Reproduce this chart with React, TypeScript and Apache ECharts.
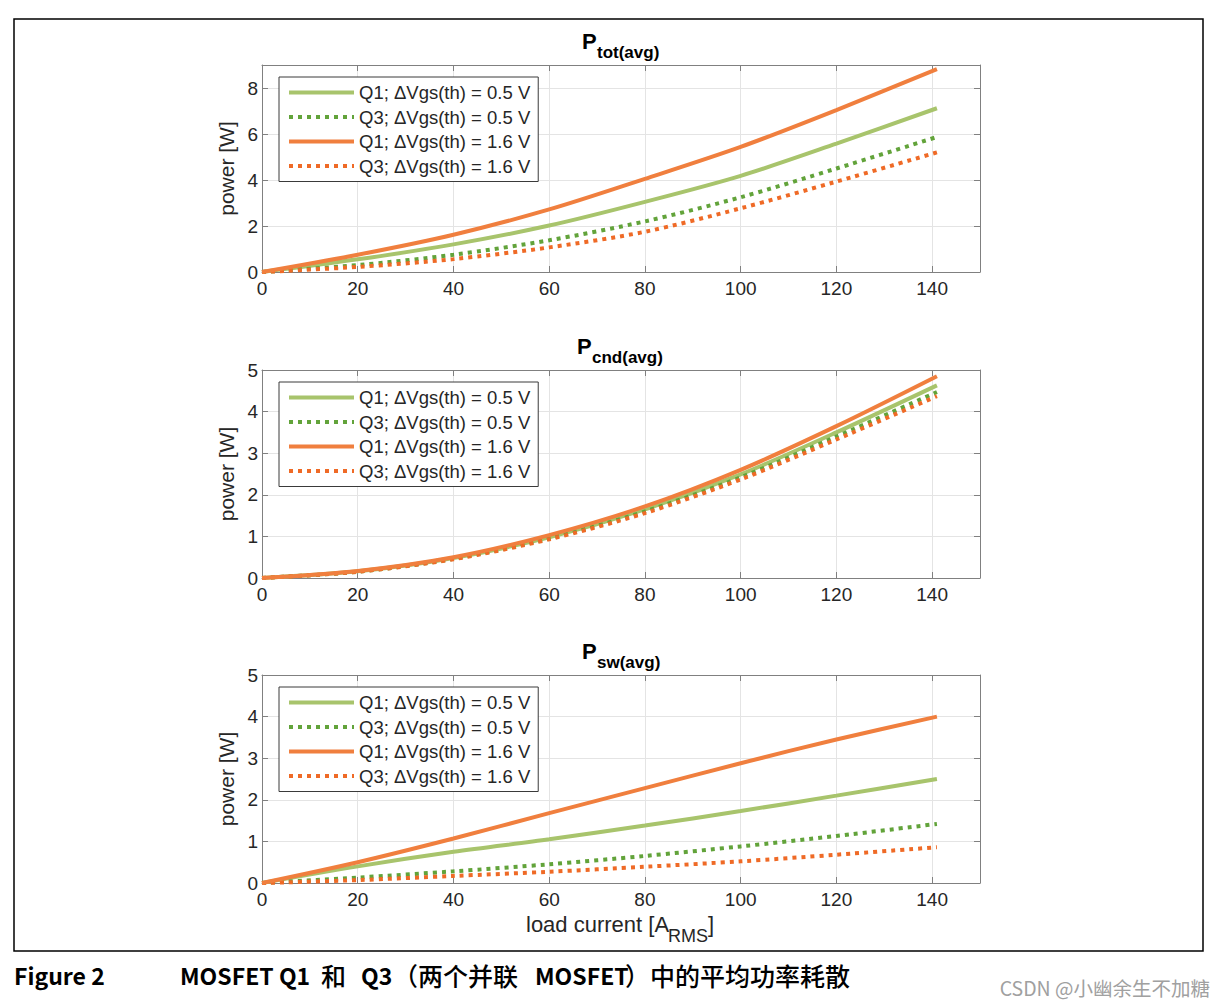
import React, { useEffect, useRef } from 'react';
import * as echarts from 'echarts';

// load current [A_RMS]
const LOAD = [0, 20, 40, 60, 80, 100, 120, 141];

const SERIES_NAMES = [
  'Q1; ΔVgs(th) = 0.5 V',
  'Q3; ΔVgs(th) = 0.5 V',
  'Q1; ΔVgs(th) = 1.6 V',
  'Q3; ΔVgs(th) = 1.6 V',
];

// P_tot(avg) [W]
const TOT_Q1_05 = [0, 0.55, 1.2, 2.02, 3.05, 4.18, 5.58, 7.12];
const TOT_Q3_05 = [0, 0.3, 0.75, 1.38, 2.2, 3.25, 4.5, 5.87];
const TOT_Q1_16 = [0, 0.75, 1.62, 2.72, 4.05, 5.44, 7.04, 8.82];
const TOT_Q3_16 = [0, 0.22, 0.56, 1.07, 1.75, 2.77, 3.93, 5.2];

// P_cnd(avg) [W]
const CND_Q1_05 = [0, 0.16, 0.48, 0.98, 1.65, 2.49, 3.5, 4.63];
const CND_Q3_05 = [0, 0.15, 0.46, 0.95, 1.6, 2.42, 3.4, 4.47];
const CND_Q1_16 = [0, 0.17, 0.5, 1.03, 1.72, 2.6, 3.65, 4.85];
const CND_Q3_16 = [0, 0.15, 0.45, 0.93, 1.56, 2.37, 3.33, 4.37];

// P_sw(avg) [W]
const SW_Q1_05 = [0, 0.4, 0.75, 1.05, 1.38, 1.73, 2.1, 2.5];
const SW_Q3_05 = [0, 0.13, 0.28, 0.45, 0.65, 0.88, 1.13, 1.42];
const SW_Q1_16 = [0, 0.5, 1.07, 1.68, 2.28, 2.88, 3.45, 4.0];
const SW_Q3_16 = [0, 0.07, 0.17, 0.27, 0.39, 0.52, 0.68, 0.86];

const X_MAX = 150;
const X_INTERVAL = 20;
const PANELS = [
  { sub: 'tot(avg)', yMax: 9, yInterval: 2, data: [TOT_Q1_05, TOT_Q3_05, TOT_Q1_16, TOT_Q3_16] },
  { sub: 'cnd(avg)', yMax: 5, yInterval: 1, data: [CND_Q1_05, CND_Q3_05, CND_Q1_16, CND_Q3_16] },
  { sub: 'sw(avg)', yMax: 5, yInterval: 1, data: [SW_Q1_05, SW_Q3_05, SW_Q1_16, SW_Q3_16] },
];

const COLORS = ['#a8c46c', '#62a33a', '#f07f3e', '#ef6a26'];
const DOTTED = [false, true, false, true];

const FONT = 'Liberation Sans, Arial, sans-serif';
const CJK = '"Noto Sans CJK SC", sans-serif';
const TICK_COLOR = '#262626';
const BOX_COLOR = '#808080';

export default function App() {
  const ref = useRef<HTMLDivElement>(null);

  useEffect(() => {
    document.body.style.margin = '0';
    const chart = echarts.init(ref.current!, null, { renderer: 'svg' });

    const gridTops = [65, 370, 675];
    const gridHeights = [207, 208, 208];
    const grids = gridTops.map((t, i) => ({ left: 262, top: t, width: 718, height: gridHeights[i] }));

    const xAxes: any[] = [];
    const yAxes: any[] = [];
    const series: any[] = [];
    const legends: any[] = [];
    const graphics: any[] = [];
    const titleP = [582, 577, 582];

    const lineStyleFor = (si: number) => ({
      color: COLORS[si], width: 4, type: DOTTED[si] ? [4, 5] : 'solid', cap: 'butt',
    });

    PANELS.forEach((p, gi) => {
      xAxes.push({
        type: 'value', gridIndex: gi, min: 0, max: X_MAX, interval: X_INTERVAL, position: 'bottom',
        axisLine: { show: true, onZero: false, lineStyle: { color: BOX_COLOR, width: 1 } },
        axisTick: { show: true, inside: true, length: 6, lineStyle: { color: BOX_COLOR } },
        axisLabel: { show: true, color: TICK_COLOR, fontSize: 19, fontFamily: FONT, margin: 7, showMaxLabel: false },
        splitLine: { show: true, lineStyle: { color: '#e4e4e4', width: 1 } },
      });
      xAxes.push({
        type: 'value', gridIndex: gi, min: 0, max: X_MAX, interval: X_INTERVAL, position: 'top',
        axisLine: { show: true, onZero: false, lineStyle: { color: BOX_COLOR, width: 1 } },
        axisTick: { show: true, inside: true, length: 6, lineStyle: { color: BOX_COLOR } },
        axisLabel: { show: false }, splitLine: { show: false },
      });
      yAxes.push({
        type: 'value', gridIndex: gi, min: 0, max: p.yMax, interval: p.yInterval, position: 'left',
        name: 'power [W]', nameLocation: 'middle', nameGap: 19,
        nameTextStyle: { color: TICK_COLOR, fontSize: 21, fontFamily: FONT },
        axisLine: { show: true, onZero: false, lineStyle: { color: BOX_COLOR, width: 1 } },
        axisTick: { show: true, inside: true, length: 6, lineStyle: { color: BOX_COLOR } },
        axisLabel: { show: true, color: TICK_COLOR, fontSize: 19, fontFamily: FONT, margin: 4, showMaxLabel: p.yMax % p.yInterval === 0 },
        splitLine: { show: true, lineStyle: { color: '#e4e4e4', width: 1 } },
      });
      yAxes.push({
        type: 'value', gridIndex: gi, min: 0, max: p.yMax, interval: p.yInterval, position: 'right',
        axisLine: { show: true, onZero: false, lineStyle: { color: BOX_COLOR, width: 1 } },
        axisTick: { show: true, inside: true, length: 6, lineStyle: { color: BOX_COLOR } },
        axisLabel: { show: false }, splitLine: { show: false },
      });
      p.data.forEach((arr, si) => {
        series.push({
          type: 'line', name: SERIES_NAMES[si],
          xAxisIndex: gi * 2, yAxisIndex: gi * 2,
          data: LOAD.map((x, k) => [x, arr[k]]),
          showSymbol: false, symbol: 'none', smooth: 0.3,
          color: COLORS[si],
          lineStyle: lineStyleFor(si),
          z: si === 2 ? 5 : 3,
        });
      });
      legends.push({
        data: SERIES_NAMES.map((n, si) => ({
          name: n,
          lineStyle: lineStyleFor(si),
          itemStyle: { color: 'rgba(0,0,0,0)', borderColor: 'rgba(0,0,0,0)', borderWidth: 0, opacity: 0 },
        })),
        orient: 'vertical', left: 279, top: gridTops[gi] + 12,
        itemWidth: 65, itemHeight: 18, itemGap: 5.5, padding: [6, 8, 6, 8],
        backgroundColor: '#fff', borderColor: '#3a3a3a', borderWidth: 1,
        textStyle: { color: TICK_COLOR, fontSize: 18.5, fontFamily: FONT },
        selectedMode: false,
      });
      graphics.push({
        type: 'text', x: titleP[gi], y: gridTops[gi] - 23.5,
        style: { text: 'P', font: `bold 22px ${FONT}`, fill: '#000', verticalAlign: 'middle' },
      });
      graphics.push({
        type: 'text', x: titleP[gi] + 15, y: gridTops[gi] - 13,
        style: { text: p.sub, font: `bold 17px ${FONT}`, fill: '#000', verticalAlign: 'middle' },
      });
    });

    const cap = (text: string, x: number, size: number, weight: string) => ({
      type: 'text', x, y: 975,
      style: { text, font: `${weight} ${size}px ${CJK}`, fill: '#000', verticalAlign: 'middle' },
    });

    graphics.push(
      { type: 'rect', shape: { x: 14, y: 19, width: 1189, height: 932 }, style: { fill: 'none', stroke: '#000', lineWidth: 1.5 }, z: 100 },
      { type: 'text', x: 526, y: 924, style: { text: 'load current [A', font: `22px ${FONT}`, fill: TICK_COLOR, verticalAlign: 'middle' } },
      { type: 'text', x: 668, y: 936, style: { text: 'RMS', font: `18px ${FONT}`, fill: TICK_COLOR, verticalAlign: 'middle' } },
      { type: 'text', x: 708, y: 924, style: { text: ']', font: `22px ${FONT}`, fill: TICK_COLOR, verticalAlign: 'middle' } },
      cap('Figure 2', 14, 23, 'bold'),
      cap('MOSFET Q1', 180, 23, 'bold'),
      cap('和', 321, 25, '500'),
      cap('Q3', 361, 23, 'bold'),
      cap('（两个并联', 393, 25, '500'),
      cap('MOSFET', 535, 23, 'bold'),
      cap('）中的平均功率耗散', 625, 25, '500'),
      { type: 'text', x: 1210, y: 987, style: { text: 'CSDN @小幽余生不加糖', font: `19.5px ${CJK}`, fill: '#a0a0a0', align: 'right', verticalAlign: 'middle' } },
    );

    chart.setOption({
      animation: false,
      backgroundColor: '#fff',
      grid: grids,
      xAxis: xAxes,
      yAxis: yAxes,
      legend: legends,
      series,
      graphic: graphics,
    });
    return () => chart.dispose();
  }, []);

  return <div ref={ref} style={{ position: 'absolute', left: 0, top: 0, width: 1224, height: 1005 }} />;
}
